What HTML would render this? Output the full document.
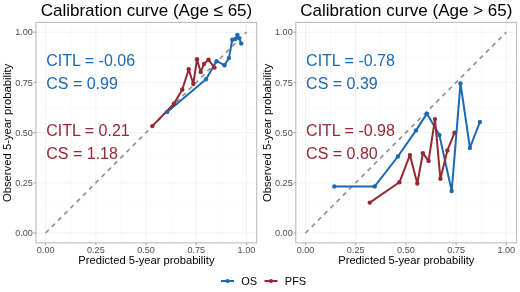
<!DOCTYPE html>
<html><head><meta charset="utf-8"><style>
html,body{margin:0;padding:0;background:#fff;}
svg{display:block;will-change:transform;}
text{font-family:"Liberation Sans",sans-serif;}
.tk{font-size:9.1px;fill:#4d4d4d;}
.ti{font-size:17px;fill:#000;}
.ax{font-size:11.2px;fill:#000;}
.ay{font-size:11.27px;fill:#000;}
.an{font-size:16px;}
.lg{font-size:11px;fill:#000;}
</style></head><body>
<svg width="520" height="292" viewBox="0 0 520 292">
<rect width="520" height="292" fill="#fff"/>
<line x1="70.75" y1="22.3" x2="70.75" y2="242.8" stroke="#f8f8f8" stroke-width="0.7"/>
<line x1="35.95" y1="207.90" x2="256.75" y2="207.90" stroke="#f8f8f8" stroke-width="0.7"/>
<line x1="120.95" y1="22.3" x2="120.95" y2="242.8" stroke="#f8f8f8" stroke-width="0.7"/>
<line x1="35.95" y1="157.70" x2="256.75" y2="157.70" stroke="#f8f8f8" stroke-width="0.7"/>
<line x1="171.15" y1="22.3" x2="171.15" y2="242.8" stroke="#f8f8f8" stroke-width="0.7"/>
<line x1="35.95" y1="107.50" x2="256.75" y2="107.50" stroke="#f8f8f8" stroke-width="0.7"/>
<line x1="221.35" y1="22.3" x2="221.35" y2="242.8" stroke="#f8f8f8" stroke-width="0.7"/>
<line x1="35.95" y1="57.30" x2="256.75" y2="57.30" stroke="#f8f8f8" stroke-width="0.7"/>
<line x1="45.65" y1="22.3" x2="45.65" y2="242.8" stroke="#f1f1f1" stroke-width="1"/>
<line x1="35.95" y1="233.00" x2="256.75" y2="233.00" stroke="#f1f1f1" stroke-width="1"/>
<line x1="95.85" y1="22.3" x2="95.85" y2="242.8" stroke="#f1f1f1" stroke-width="1"/>
<line x1="35.95" y1="182.80" x2="256.75" y2="182.80" stroke="#f1f1f1" stroke-width="1"/>
<line x1="146.05" y1="22.3" x2="146.05" y2="242.8" stroke="#f1f1f1" stroke-width="1"/>
<line x1="35.95" y1="132.60" x2="256.75" y2="132.60" stroke="#f1f1f1" stroke-width="1"/>
<line x1="196.25" y1="22.3" x2="196.25" y2="242.8" stroke="#f1f1f1" stroke-width="1"/>
<line x1="35.95" y1="82.40" x2="256.75" y2="82.40" stroke="#f1f1f1" stroke-width="1"/>
<line x1="246.45" y1="22.3" x2="246.45" y2="242.8" stroke="#f1f1f1" stroke-width="1"/>
<line x1="35.95" y1="32.20" x2="256.75" y2="32.20" stroke="#f1f1f1" stroke-width="1"/>
<line x1="45.65" y1="233.00" x2="246.45" y2="32.20" stroke="#929292" stroke-width="1.7" stroke-dasharray="4.4 4.4"/>
<polyline points="167.2,111.9 206.0,79.2 216.6,61.2 224.5,65.2 228.9,58.1 232.3,39.8 235.2,39.1 237.4,35.0 239.0,38.1 241.3,43.6" fill="none" stroke="#1b69b2" stroke-width="2" stroke-linejoin="round" stroke-linecap="butt"/>
<polyline points="152.3,126.1 173.9,103.8 182.3,89.5 188.7,69.3 193.3,84.0 197.0,59.2 200.7,72.1 204.0,63.9 208.5,59.8 214.5,67.6" fill="none" stroke="#952833" stroke-width="2" stroke-linejoin="round" stroke-linecap="butt"/>
<circle cx="167.2" cy="111.9" r="2.2" fill="#1b69b2"/>
<circle cx="206.0" cy="79.2" r="2.2" fill="#1b69b2"/>
<circle cx="216.6" cy="61.2" r="2.2" fill="#1b69b2"/>
<circle cx="224.5" cy="65.2" r="2.2" fill="#1b69b2"/>
<circle cx="228.9" cy="58.1" r="2.2" fill="#1b69b2"/>
<circle cx="232.3" cy="39.8" r="2.2" fill="#1b69b2"/>
<circle cx="235.2" cy="39.1" r="2.2" fill="#1b69b2"/>
<circle cx="237.4" cy="35.0" r="2.2" fill="#1b69b2"/>
<circle cx="239.0" cy="38.1" r="2.2" fill="#1b69b2"/>
<circle cx="241.3" cy="43.6" r="2.2" fill="#1b69b2"/>
<circle cx="152.3" cy="126.1" r="2.2" fill="#952833"/>
<circle cx="173.9" cy="103.8" r="2.2" fill="#952833"/>
<circle cx="182.3" cy="89.5" r="2.2" fill="#952833"/>
<circle cx="188.7" cy="69.3" r="2.2" fill="#952833"/>
<circle cx="193.3" cy="84.0" r="2.2" fill="#952833"/>
<circle cx="197.0" cy="59.2" r="2.2" fill="#952833"/>
<circle cx="200.7" cy="72.1" r="2.2" fill="#952833"/>
<circle cx="204.0" cy="63.9" r="2.2" fill="#952833"/>
<circle cx="208.5" cy="59.8" r="2.2" fill="#952833"/>
<circle cx="214.5" cy="67.6" r="2.2" fill="#952833"/>
<rect x="35.95" y="22.35" width="220.8" height="220.5" fill="none" stroke="#b5b5b5" stroke-width="1"/>
<line x1="33.550000000000004" y1="233.00" x2="35.95" y2="233.00" stroke="#a0a0a0" stroke-width="1"/>
<line x1="45.65" y1="243" x2="45.65" y2="245.1" stroke="#a0a0a0" stroke-width="1"/>
<text x="32.85" y="236.10" text-anchor="end" class="tk">0.00</text>
<text x="45.65" y="252.8" text-anchor="middle" class="tk">0.00</text>
<line x1="33.550000000000004" y1="182.80" x2="35.95" y2="182.80" stroke="#a0a0a0" stroke-width="1"/>
<line x1="95.85" y1="243" x2="95.85" y2="245.1" stroke="#a0a0a0" stroke-width="1"/>
<text x="32.85" y="185.90" text-anchor="end" class="tk">0.25</text>
<text x="95.85" y="252.8" text-anchor="middle" class="tk">0.25</text>
<line x1="33.550000000000004" y1="132.60" x2="35.95" y2="132.60" stroke="#a0a0a0" stroke-width="1"/>
<line x1="146.05" y1="243" x2="146.05" y2="245.1" stroke="#a0a0a0" stroke-width="1"/>
<text x="32.85" y="135.70" text-anchor="end" class="tk">0.50</text>
<text x="146.05" y="252.8" text-anchor="middle" class="tk">0.50</text>
<line x1="33.550000000000004" y1="82.40" x2="35.95" y2="82.40" stroke="#a0a0a0" stroke-width="1"/>
<line x1="196.25" y1="243" x2="196.25" y2="245.1" stroke="#a0a0a0" stroke-width="1"/>
<text x="32.85" y="85.50" text-anchor="end" class="tk">0.75</text>
<text x="196.25" y="252.8" text-anchor="middle" class="tk">0.75</text>
<line x1="33.550000000000004" y1="32.20" x2="35.95" y2="32.20" stroke="#a0a0a0" stroke-width="1"/>
<line x1="246.45" y1="243" x2="246.45" y2="245.1" stroke="#a0a0a0" stroke-width="1"/>
<text x="32.85" y="35.30" text-anchor="end" class="tk">1.00</text>
<text x="246.45" y="252.8" text-anchor="middle" class="tk">1.00</text>
<text x="146.45" y="15.6" text-anchor="middle" class="ti">Calibration curve (Age ≤ 65)</text>
<text x="146.45" y="264" text-anchor="middle" class="ax">Predicted 5-year probability</text>
<text transform="translate(11.15,132.9) rotate(-90)" text-anchor="middle" class="ay">Observed 5-year probability</text>
<text x="46.25" y="65.5" fill="#1b69b2" class="an">CITL = -0.06</text>
<text x="46.25" y="88.5" fill="#1b69b2" class="an">CS = 0.99</text>
<text x="46.25" y="136.1" fill="#952833" class="an">CITL = 0.21</text>
<text x="46.25" y="158.8" fill="#952833" class="an">CS = 1.18</text>
<line x1="330.60" y1="22.3" x2="330.60" y2="242.8" stroke="#f8f8f8" stroke-width="0.7"/>
<line x1="295.8" y1="207.90" x2="516.6" y2="207.90" stroke="#f8f8f8" stroke-width="0.7"/>
<line x1="380.80" y1="22.3" x2="380.80" y2="242.8" stroke="#f8f8f8" stroke-width="0.7"/>
<line x1="295.8" y1="157.70" x2="516.6" y2="157.70" stroke="#f8f8f8" stroke-width="0.7"/>
<line x1="431.00" y1="22.3" x2="431.00" y2="242.8" stroke="#f8f8f8" stroke-width="0.7"/>
<line x1="295.8" y1="107.50" x2="516.6" y2="107.50" stroke="#f8f8f8" stroke-width="0.7"/>
<line x1="481.20" y1="22.3" x2="481.20" y2="242.8" stroke="#f8f8f8" stroke-width="0.7"/>
<line x1="295.8" y1="57.30" x2="516.6" y2="57.30" stroke="#f8f8f8" stroke-width="0.7"/>
<line x1="305.50" y1="22.3" x2="305.50" y2="242.8" stroke="#f1f1f1" stroke-width="1"/>
<line x1="295.8" y1="233.00" x2="516.6" y2="233.00" stroke="#f1f1f1" stroke-width="1"/>
<line x1="355.70" y1="22.3" x2="355.70" y2="242.8" stroke="#f1f1f1" stroke-width="1"/>
<line x1="295.8" y1="182.80" x2="516.6" y2="182.80" stroke="#f1f1f1" stroke-width="1"/>
<line x1="405.90" y1="22.3" x2="405.90" y2="242.8" stroke="#f1f1f1" stroke-width="1"/>
<line x1="295.8" y1="132.60" x2="516.6" y2="132.60" stroke="#f1f1f1" stroke-width="1"/>
<line x1="456.10" y1="22.3" x2="456.10" y2="242.8" stroke="#f1f1f1" stroke-width="1"/>
<line x1="295.8" y1="82.40" x2="516.6" y2="82.40" stroke="#f1f1f1" stroke-width="1"/>
<line x1="506.30" y1="22.3" x2="506.30" y2="242.8" stroke="#f1f1f1" stroke-width="1"/>
<line x1="295.8" y1="32.20" x2="516.6" y2="32.20" stroke="#f1f1f1" stroke-width="1"/>
<line x1="305.50" y1="233.00" x2="506.30" y2="32.20" stroke="#929292" stroke-width="1.7" stroke-dasharray="4.4 4.4"/>
<polyline points="334.3,186.4 374.7,186.4 397.9,156.5 416.0,130.4 426.9,113.6 439.4,135.1 451.7,191.0 460.5,83.4 469.9,147.9 479.9,122.0" fill="none" stroke="#1b69b2" stroke-width="2" stroke-linejoin="round" stroke-linecap="butt"/>
<polyline points="369.8,202.6 399.4,182.3 409.9,155.1 417.3,183.5 422.9,153.2 428.6,160.9 435.0,119.1 440.4,178.8 447.4,150.4 454.5,132.8" fill="none" stroke="#952833" stroke-width="2" stroke-linejoin="round" stroke-linecap="butt"/>
<circle cx="334.3" cy="186.4" r="2.2" fill="#1b69b2"/>
<circle cx="374.7" cy="186.4" r="2.2" fill="#1b69b2"/>
<circle cx="397.9" cy="156.5" r="2.2" fill="#1b69b2"/>
<circle cx="416.0" cy="130.4" r="2.2" fill="#1b69b2"/>
<circle cx="426.9" cy="113.6" r="2.2" fill="#1b69b2"/>
<circle cx="439.4" cy="135.1" r="2.2" fill="#1b69b2"/>
<circle cx="451.7" cy="191.0" r="2.2" fill="#1b69b2"/>
<circle cx="460.5" cy="83.4" r="2.2" fill="#1b69b2"/>
<circle cx="469.9" cy="147.9" r="2.2" fill="#1b69b2"/>
<circle cx="479.9" cy="122.0" r="2.2" fill="#1b69b2"/>
<circle cx="369.8" cy="202.6" r="2.2" fill="#952833"/>
<circle cx="399.4" cy="182.3" r="2.2" fill="#952833"/>
<circle cx="409.9" cy="155.1" r="2.2" fill="#952833"/>
<circle cx="417.3" cy="183.5" r="2.2" fill="#952833"/>
<circle cx="422.9" cy="153.2" r="2.2" fill="#952833"/>
<circle cx="428.6" cy="160.9" r="2.2" fill="#952833"/>
<circle cx="435.0" cy="119.1" r="2.2" fill="#952833"/>
<circle cx="440.4" cy="178.8" r="2.2" fill="#952833"/>
<circle cx="447.4" cy="150.4" r="2.2" fill="#952833"/>
<circle cx="454.5" cy="132.8" r="2.2" fill="#952833"/>
<rect x="295.8" y="22.35" width="220.8" height="220.5" fill="none" stroke="#b5b5b5" stroke-width="1"/>
<line x1="293.40000000000003" y1="233.00" x2="295.8" y2="233.00" stroke="#a0a0a0" stroke-width="1"/>
<line x1="305.50" y1="243" x2="305.50" y2="245.1" stroke="#a0a0a0" stroke-width="1"/>
<text x="292.70" y="236.10" text-anchor="end" class="tk">0.00</text>
<text x="305.50" y="252.8" text-anchor="middle" class="tk">0.00</text>
<line x1="293.40000000000003" y1="182.80" x2="295.8" y2="182.80" stroke="#a0a0a0" stroke-width="1"/>
<line x1="355.70" y1="243" x2="355.70" y2="245.1" stroke="#a0a0a0" stroke-width="1"/>
<text x="292.70" y="185.90" text-anchor="end" class="tk">0.25</text>
<text x="355.70" y="252.8" text-anchor="middle" class="tk">0.25</text>
<line x1="293.40000000000003" y1="132.60" x2="295.8" y2="132.60" stroke="#a0a0a0" stroke-width="1"/>
<line x1="405.90" y1="243" x2="405.90" y2="245.1" stroke="#a0a0a0" stroke-width="1"/>
<text x="292.70" y="135.70" text-anchor="end" class="tk">0.50</text>
<text x="405.90" y="252.8" text-anchor="middle" class="tk">0.50</text>
<line x1="293.40000000000003" y1="82.40" x2="295.8" y2="82.40" stroke="#a0a0a0" stroke-width="1"/>
<line x1="456.10" y1="243" x2="456.10" y2="245.1" stroke="#a0a0a0" stroke-width="1"/>
<text x="292.70" y="85.50" text-anchor="end" class="tk">0.75</text>
<text x="456.10" y="252.8" text-anchor="middle" class="tk">0.75</text>
<line x1="293.40000000000003" y1="32.20" x2="295.8" y2="32.20" stroke="#a0a0a0" stroke-width="1"/>
<line x1="506.30" y1="243" x2="506.30" y2="245.1" stroke="#a0a0a0" stroke-width="1"/>
<text x="292.70" y="35.30" text-anchor="end" class="tk">1.00</text>
<text x="506.30" y="252.8" text-anchor="middle" class="tk">1.00</text>
<text x="406.30" y="15.6" text-anchor="middle" class="ti">Calibration curve (Age &gt; 65)</text>
<text x="406.30" y="264" text-anchor="middle" class="ax">Predicted 5-year probability</text>
<text transform="translate(271.00,132.9) rotate(-90)" text-anchor="middle" class="ay">Observed 5-year probability</text>
<text x="306.10" y="65.5" fill="#1b69b2" class="an">CITL = -0.78</text>
<text x="306.10" y="88.5" fill="#1b69b2" class="an">CS = 0.39</text>
<text x="306.10" y="136.1" fill="#952833" class="an">CITL = -0.98</text>
<text x="306.10" y="158.8" fill="#952833" class="an">CS = 0.80</text>
<line x1="221" y1="281" x2="234" y2="281" stroke="#1b69b2" stroke-width="2"/>
<circle cx="227.5" cy="281" r="2" fill="#1b69b2"/>
<text x="241.3" y="285.2" class="lg">OS</text>
<line x1="264.5" y1="281" x2="277.5" y2="281" stroke="#952833" stroke-width="2"/>
<circle cx="271" cy="281" r="2" fill="#952833"/>
<text x="284.8" y="285.2" class="lg">PFS</text>
</svg>
</body></html>
